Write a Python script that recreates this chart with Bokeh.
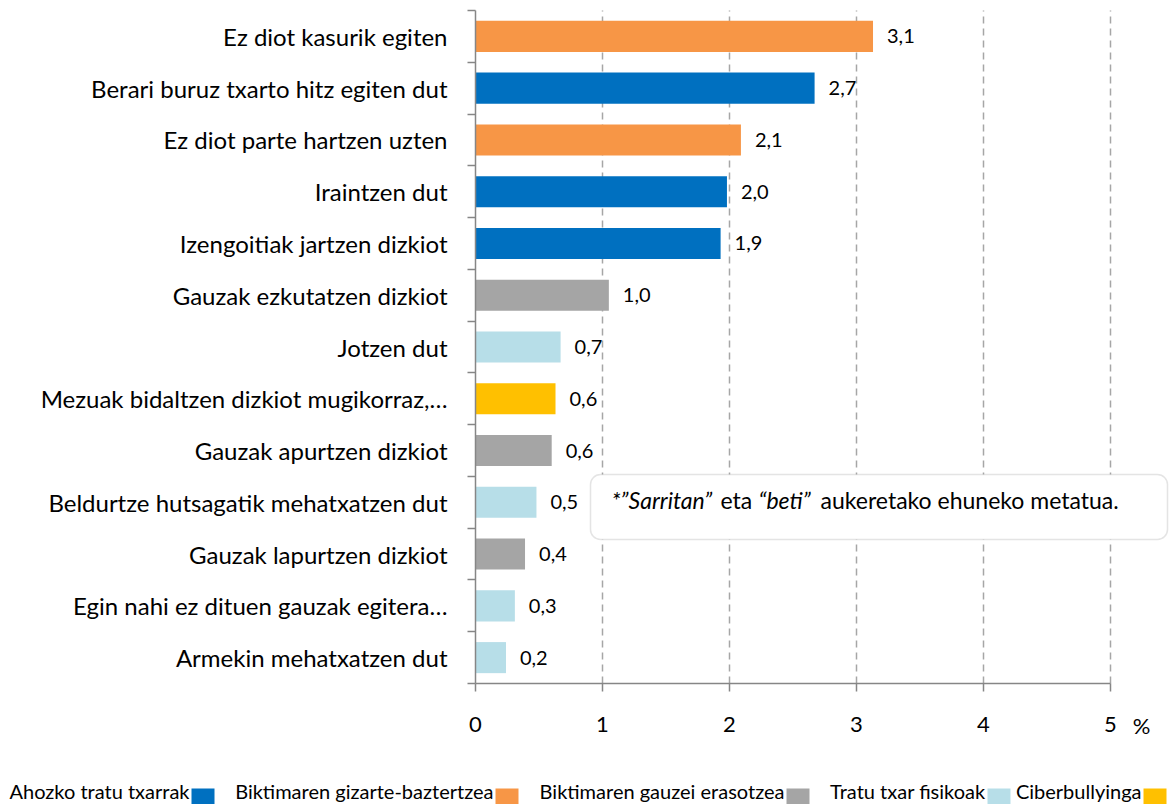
from bokeh.plotting import figure
from bokeh.models import Range1d, FixedTicker, Label, BoxAnnotation, ColumnDataSource
from bokeh.embed import file_html
from bokeh.resources import INLINE
from bokeh.core.properties import value

# ---------------- data ----------------
categories = [
    "Ez diot kasurik egiten",
    "Berari buruz txarto hitz egiten dut",
    "Ez diot parte hartzen uzten",
    "Iraintzen dut",
    "Izengoitiak jartzen dizkiot",
    "Gauzak ezkutatzen dizkiot",
    "Jotzen dut",
    "Mezuak bidaltzen dizkiot mugikorraz,…",
    "Gauzak apurtzen dizkiot",
    "Beldurtze hutsagatik mehatxatzen dut",
    "Gauzak lapurtzen dizkiot",
    "Egin nahi ez dituen gauzak egitera…",
    "Armekin mehatxatzen dut",
]
values = [3.13, 2.67, 2.09, 1.98, 1.93, 1.05, 0.67, 0.63, 0.60, 0.48, 0.39, 0.31, 0.24]
value_labels = ["3,1", "2,7", "2,1", "2,0", "1,9", "1,0", "0,7", "0,6", "0,6", "0,5", "0,4", "0,3", "0,2"]
groups = [
    "Biktimaren gizarte-baztertzea",
    "Ahozko tratu txarrak",
    "Biktimaren gizarte-baztertzea",
    "Ahozko tratu txarrak",
    "Ahozko tratu txarrak",
    "Biktimaren gauzei erasotzea",
    "Tratu txar fisikoak",
    "Ciberbullyinga",
    "Biktimaren gauzei erasotzea",
    "Tratu txar fisikoak",
    "Biktimaren gauzei erasotzea",
    "Tratu txar fisikoak",
    "Tratu txar fisikoak",
]
legend_names = ["Ahozko tratu txarrak", "Biktimaren gizarte-baztertzea",
                "Biktimaren gauzei erasotzea", "Tratu txar fisikoak", "Ciberbullyinga"]
legend_colors = ["#0070C0", "#F79646", "#A5A5A5", "#B7DEE8", "#FFC000"]
x_ticks = [0, 1, 2, 3, 4, 5]
grid_ticks = [1, 2, 3, 4, 5]

# ---------------- layout helpers (canvas pixels) ----------------
FONT = "Lato"
W, H = 1172, 804
X0PX, YTOP, Y0PX = 475, 10, 683      # pixel of value 0, top of plot area, x-axis row
UX = 127.0
NCAT = len(categories)
UY = (Y0PX - YTOP) / NCAT


def dx(px):
    return (px - X0PX) / UX


def dy(py):
    return NCAT - (py - YTOP) / UY


color_of = dict(zip(legend_names, legend_colors))
ys = [NCAT - 0.5 - i for i in range(NCAT)]
colors = [color_of[g] for g in groups]

p = figure(width=W, height=H, x_range=Range1d(dx(0), dx(W)), y_range=Range1d(dy(H), dy(0)),
           output_backend="svg", toolbar_location=None, min_border=0,
           min_border_left=0, min_border_right=0, min_border_top=0, min_border_bottom=0)
p.outline_line_color = None
p.background_fill_color = "white"
p.border_fill_color = "white"

# dashed vertical gridlines (only over the plot area)
p.xgrid.visible = False
p.ygrid.visible = False
p.segment(x0=grid_ticks, y0=[0] * len(grid_ticks), x1=grid_ticks, y1=[NCAT] * len(grid_ticks),
          line_color="#A6A6A6", line_dash="7 5", line_width=1.5)

src = ColumnDataSource(dict(y=ys, v=values, lab=value_labels, color=colors))
p.hbar(y="y", left=0, right="v", height=0.6, fill_color="color", line_color=None, source=src)
p.text(x="v", y="y", text="lab", source=src, x_offset=14, text_baseline="middle",
       text_font=value(FONT), text_font_size="20px", text_color="#000000")

AX = "#868686"
xa = p.xaxis[0]
xa.fixed_location = 0
xa.ticker = FixedTicker(ticks=x_ticks)
xa.bounds = (0, 5)
xa.axis_line_color = AX
xa.axis_line_width = 1.5
xa.major_tick_line_color = AX
xa.major_tick_line_width = 1.5
xa.major_tick_out = 8
xa.major_tick_in = 0
xa.minor_tick_line_color = None
xa.major_label_standoff = 25
xa.major_label_text_font = FONT
xa.major_label_text_font_size = "22px"
xa.major_label_text_color = "#000000"

ya = p.yaxis[0]
ya.fixed_location = 0
ya.ticker = FixedTicker(ticks=ys, minor_ticks=list(range(NCAT + 1)))
ya.major_label_overrides = {y: c for y, c in zip(ys, categories)}
ya.bounds = (0, NCAT)
ya.axis_line_color = AX
ya.axis_line_width = 1.5
ya.major_tick_out = 0
ya.major_tick_in = 0
ya.minor_tick_out = 8
ya.minor_tick_in = 0
ya.minor_tick_line_color = AX
ya.minor_tick_line_width = 1.5
ya.major_label_standoff = 20
ya.major_label_text_font = FONT
ya.major_label_text_font_size = "24px"
ya.major_label_text_color = "#000000"

# "%" unit label
p.add_layout(Label(x=dx(1141), y=dy(725), text="%", text_align="center", text_baseline="middle",
                   text_font=FONT, text_font_size="22px", text_color="#000000"))

# note box
p.add_layout(BoxAnnotation(left=dx(590), right=dx(1167), top=dy(474), bottom=dy(539),
                           fill_color="white", fill_alpha=1.0, line_color="#A6A6A6",
                           line_width=1.5, border_radius=10, level="annotation"))
note_parts = [("*”Sarritan”", "italic", 611), ("eta", "normal", 720),
              ("“beti”", "italic", 758), ("aukeretako ehuneko metatua.", "normal", 820)]
for txt, style, xpos in note_parts:
    p.add_layout(Label(x=dx(xpos), y=dy(499), text=txt, text_baseline="middle",
                       text_font=FONT, text_font_style=style, text_font_size="23px",
                       text_color="#000000"))

# legend (text followed by swatch)
sw_left = [191, 495, 786, 987, 1143]
for name, col, sl in zip(legend_names, legend_colors, sw_left):
    p.add_layout(Label(x=dx(sl - 2), y=dy(790), text=name, text_align="right",
                       text_baseline="middle", text_font=FONT, text_font_size="20px",
                       text_color="#000000"))
    p.add_layout(BoxAnnotation(left=dx(sl), right=dx(sl + 23), top=dy(788), bottom=dy(804),
                               fill_color=col, fill_alpha=1.0, line_color=None))

open("out.html", "w").write(file_html(p, INLINE))
